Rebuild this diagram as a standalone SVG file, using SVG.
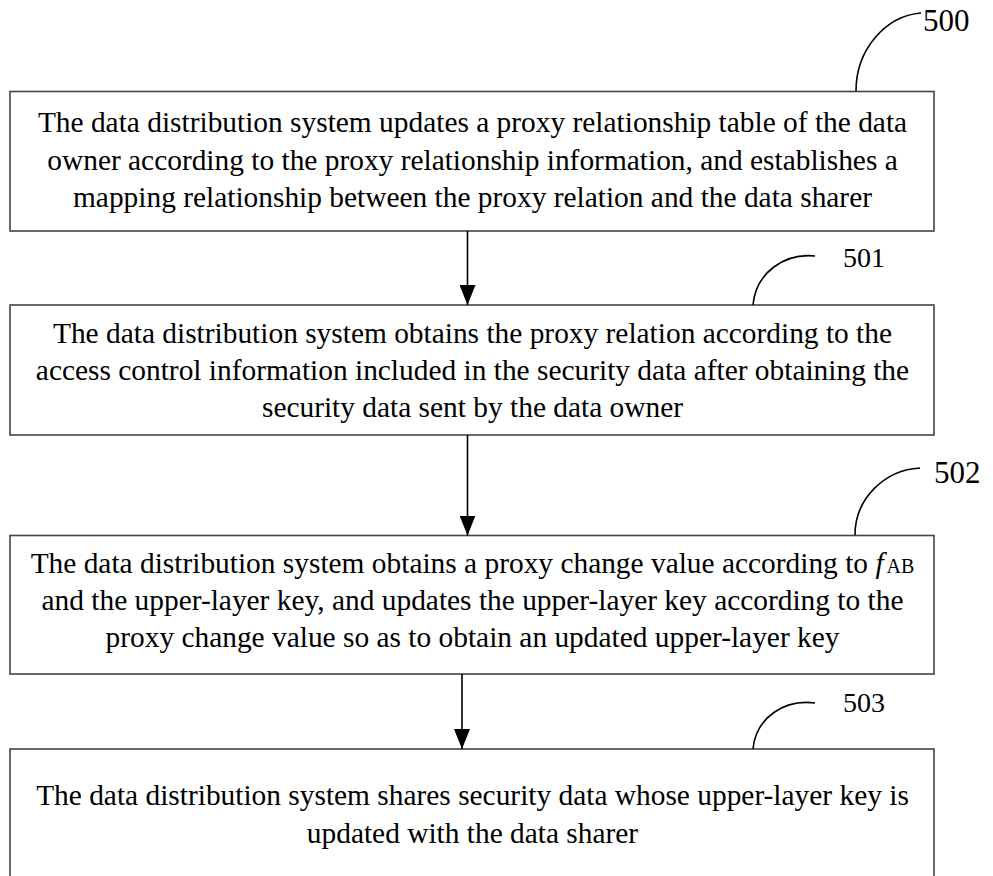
<svg xmlns="http://www.w3.org/2000/svg" width="993" height="876" viewBox="0 0 993 876">
  <style>
    .box { fill: #ffffff; stroke: #444444; stroke-width: 1.6; }
    .txt { font-size: 29.4px; fill: #000000; text-anchor: middle; }
    .ref { fill: #000000; }
    .lead { fill: none; stroke: #000000; stroke-width: 1.6; }
    .conn { stroke: #000000; stroke-width: 1.6; fill: none; }
  </style>
  <defs>
    <!-- arrowhead drawn along +x so orient="auto" points it down the line -->
    <marker id="arrow" viewBox="0 0 20 16" refX="20" refY="8" markerWidth="20" markerHeight="16" markerUnits="userSpaceOnUse" orient="auto">
      <path d="M0,0 L20,8 L0,16 Z" fill="#000000"/>
    </marker>
  </defs>
  <rect width="993" height="876" fill="#ffffff"/>

  <g font-family="Liberation Serif, Times New Roman, serif">
    <g id="step-500">
      <rect class="box" x="10" y="91.5" width="924" height="139.5"/>
      <text class="txt" x="472.5" y="132">The data distribution system updates a proxy relationship table of the data</text>
      <text class="txt" x="472.5" y="170">owner according to the proxy relationship information, and establishes a</text>
      <text class="txt" x="472.5" y="207">mapping relationship between the proxy relation and the data sharer</text>
      <path class="lead" d="M856,91 C856,50 885,16 921,13"/>
      <text class="ref" x="923" y="31" font-size="31">500</text>
    </g>

    <g id="step-501">
      <rect class="box" x="10" y="305" width="924" height="130"/>
      <text class="txt" x="472.5" y="343">The data distribution system obtains the proxy relation according to the</text>
      <text class="txt" x="472.5" y="380">access control information included in the security data after obtaining the</text>
      <text class="txt" x="472.5" y="417">security data sent by the data owner</text>
      <path class="lead" d="M753,305 C756,272 785,253 815,256"/>
      <text class="ref" x="843" y="267" font-size="28">501</text>
    </g>

    <g id="step-502">
      <rect class="box" x="10" y="535.5" width="924" height="138.5"/>
      <text class="txt" x="472.5" y="573">The data distribution system obtains a proxy change value according to <tspan font-style="italic">f</tspan><tspan font-size="20" dx="3">AB</tspan></text>
      <text class="txt" x="472.5" y="610">and the upper-layer key, and updates the upper-layer key according to the</text>
      <text class="txt" x="472.5" y="647">proxy change value so as to obtain an updated upper-layer key</text>
      <path class="lead" d="M855,535 C855,498 885,470 920,468"/>
      <text class="ref" x="934" y="483" font-size="31">502</text>
    </g>

    <g id="step-503">
      <rect class="box" x="10" y="749" width="924" height="150"/>
      <text class="txt" x="472.5" y="805">The data distribution system shares security data whose upper-layer key is</text>
      <text class="txt" x="472.5" y="843">updated with the data sharer</text>
      <path class="lead" d="M753,749 C756,717 785,699 815,703"/>
      <text class="ref" x="843" y="712" font-size="28">503</text>
    </g>
  </g>

  <g id="connectors">
    <line class="conn" x1="467.5" y1="231" x2="467.5" y2="305" marker-end="url(#arrow)"/>
    <line class="conn" x1="467.5" y1="435" x2="467.5" y2="535.5" marker-end="url(#arrow)"/>
    <line class="conn" x1="462" y1="674" x2="462" y2="749" marker-end="url(#arrow)"/>
  </g>
</svg>
